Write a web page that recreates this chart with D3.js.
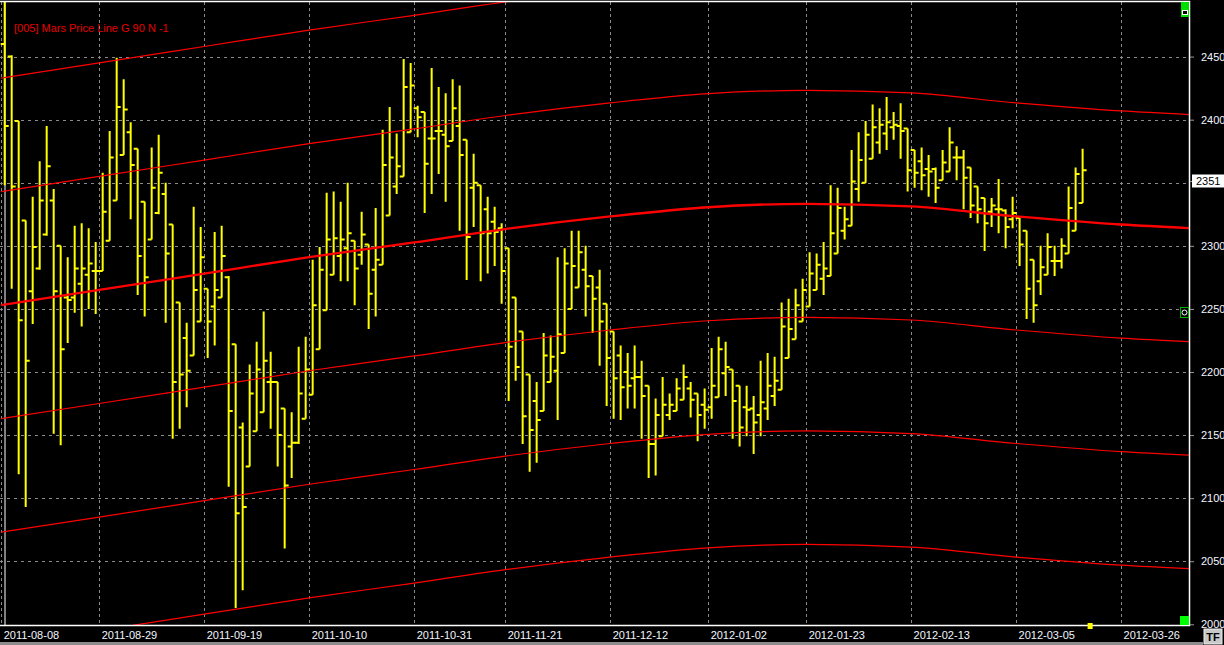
<!DOCTYPE html>
<html>
<head>
<meta charset="utf-8">
<script src="https://cdn.jsdelivr.net/npm/d3@7"></script>
<style>
	body { margin: 0; background: #000; }
	svg { display: block; font-family: "Liberation Sans", Arial, sans-serif; }
</style>
</head>
<body>
<script>
// trading calendar (weekdays minus days with no bar)
const startDate = "2011-08-08";
const endDate = "2012-04-12";
const skippedDays = ["2011-08-19", "2011-11-10", "2011-11-11", "2011-12-26", "2012-01-02"];

// daily bars, one value per trading day from 2011-08-08
const opens = [2460,2450,2399,2320,2264,2282,2309,2336,2300,2259,2259,2270,2277,2280,2280,2304,2336,2372,2390,2377,
	2335,2305,2326,2341,2317,2255,2227,2213,2240,2266,2252,2259,2275,2222,2156,2125,2153,2168,2192,2192,
	2171,2141,2144,2163,2182,2218,2249,2277,2292,2298,2304,2293,2301,2281,2285,2324,2347,2355,2390,2409,
	2406,2385,2391,2388,2383,2395,2384,2346,2348,2329,2319,2314,2298,2259,2232,2198,2177,2169,2192,2201,
	2215,2250,2267,2281,2276,2267,2254,2232,2213,2200,2195,2196,2189,2143,2149,2166,2169,2178,2187,2183,
	2174,2172,2180,2199,2202,2189,2172,2171,2166,2171,2181,2186,2211,2226,2240,2252,2265,2274,2276,2294,
	2312,2316,2345,2350,2369,2382,2389,2394,2395,2393,2376,2367,2361,2361,2352,2359,2370,2370,2362,2347,
	2338,2327,2329,2328,2321,2322,2312,2289,2272,2277,2288,2288,2294,2312,2334];
const highs = [2500,2451,2399,2320,2339,2367,2395,2345,2300,2291,2316,2318,2314,2303,2358,2391,2449,2432,2398,2377,
	2335,2378,2388,2350,2317,2255,2239,2331,2315,2266,2311,2316,2276,2222,2160,2206,2224,2248,2216,2192,
	2171,2168,2220,2228,2289,2299,2342,2343,2335,2350,2304,2327,2301,2330,2392,2410,2389,2448,2445,2411,
	2406,2441,2426,2421,2432,2427,2384,2373,2348,2339,2331,2318,2298,2259,2232,2198,2192,2231,2229,2291,
	2298,2312,2312,2300,2276,2281,2254,2232,2221,2215,2221,2209,2189,2179,2196,2183,2195,2206,2192,2183,
	2187,2219,2228,2224,2202,2189,2189,2181,2209,2215,2212,2255,2258,2266,2274,2295,2294,2303,2348,2346,
	2331,2376,2390,2399,2412,2409,2418,2406,2413,2393,2376,2378,2372,2362,2376,2394,2379,2376,2362,2347,
	2338,2338,2353,2329,2339,2322,2312,2289,2300,2310,2300,2306,2347,2362,2377];
const lows = [2348,2266,2119,2093,2238,2281,2308,2151,2142,2223,2247,2236,2250,2246,2280,2304,2336,2372,2321,2261,
	2244,2305,2325,2239,2147,2155,2172,2213,2240,2211,2221,2259,2109,2013,2027,2125,2153,2168,2155,2125,
	2060,2116,2143,2163,2182,2218,2249,2277,2272,2272,2253,2285,2234,2244,2285,2324,2341,2355,2390,2386,
	2326,2341,2357,2335,2383,2312,2273,2315,2272,2278,2284,2254,2177,2193,2143,2121,2128,2169,2192,2162,
	2215,2250,2267,2244,2231,2205,2173,2163,2162,2171,2171,2147,2116,2118,2149,2162,2169,2178,2164,2145,
	2155,2163,2180,2181,2147,2141,2149,2135,2149,2162,2173,2186,2211,2226,2240,2252,2265,2261,2276,2294,
	2305,2316,2335,2350,2369,2373,2376,2384,2369,2343,2346,2344,2339,2334,2352,2359,2352,2329,2322,2318,
	2296,2315,2310,2298,2314,2284,2242,2239,2261,2277,2276,2282,2294,2312,2334];
const closes = [2395,2347,2241,2209,2299,2336,2363,2264,2218,2257,2282,2282,2286,2280,2327,2370,2410,2408,2364,2292,
	2275,2346,2358,2294,2192,2198,2201,2265,2291,2240,2265,2292,2169,2088,2093,2183,2202,2209,2192,2150,
	2110,2144,2183,2202,2253,2281,2305,2306,2305,2310,2282,2309,2262,2289,2364,2370,2363,2426,2427,2402,
	2365,2385,2391,2379,2409,2372,2307,2350,2310,2310,2311,2280,2220,2204,2165,2154,2162,2213,2212,2230,
	2286,2284,2295,2268,2258,2240,2211,2195,2188,2189,2196,2181,2143,2166,2174,2174,2187,2196,2178,2166,
	2170,2189,2218,2204,2177,2156,2170,2160,2176,2189,2193,2236,2234,2253,2265,2278,2285,2282,2310,2330,
	2321,2351,2368,2388,2394,2396,2398,2396,2391,2360,2358,2356,2359,2346,2366,2382,2370,2354,2332,2329,
	2318,2332,2329,2315,2326,2301,2266,2253,2283,2299,2288,2300,2330,2357,2360];

// x axis labels
const tickDates = ["2011-08-08", "2011-08-29", "2011-09-19", "2011-10-10", "2011-10-31", "2011-11-21",
	"2011-12-12", "2012-01-02", "2012-01-23", "2012-02-13", "2012-03-05", "2012-03-26"];

// Mars price line (centre) read at the tick dates, and the 90 point steps around it
const lineDates = ["2011-08-08", "2011-08-29", "2011-09-19", "2011-10-10", "2011-10-31", "2011-11-21",
	"2011-12-12", "2012-01-02", "2012-01-23", "2012-02-13", "2012-03-05", "2012-03-26", "2012-04-09"];
const centerLine = [2253, 2265, 2278, 2291, 2302.7, 2313.3, 2323.3, 2330.6, 2333.3, 2331.2, 2323.3, 2316.9, 2314];
const lineOffsets = [-270, -180, -90, 0, 90, 180];

const priceTicks = [2000, 2050, 2100, 2150, 2200, 2250, 2300, 2350, 2400, 2450];
const lastPrice = 2351;
const legendText = "[005] Mars Price Line G 90 N -1";

const width = 1224;
const height = 645;
const plot = {left: 0, right: 1189, top: 2, bottom: 625};

const parse = d3.timeParse("%Y-%m-%d");
const fmt = d3.timeFormat("%Y-%m-%d");
const days = d3.timeDay.range(parse(startDate), parse(endDate))
	.filter(d => d.getDay() !== 0 && d.getDay() !== 6 && !skippedDays.includes(fmt(d)));
const dayIndex = s => days.findIndex(d => fmt(d) >= s);

const bars = opens.map((o, i) => ({i: i, open: o, high: highs[i], low: lows[i], close: closes[i]}));

const x = d3.scaleLinear()
	.domain([-0.67, 169.2])
	.range([plot.left, plot.right]);
const y = d3.scaleLinear()
	.domain([2000, 2450])
	.range([624.3, 56.6]);

const svg = d3.select("body").append("svg")
	.attr("width", width)
	.attr("height", height);

svg.append("rect")
	.attr("width", width)
	.attr("height", height)
	.attr("fill", "#000");

svg.append("clipPath")
	.attr("id", "plot-clip")
	.append("rect")
	.attr("x", plot.left)
	.attr("y", plot.top)
	.attr("width", plot.right - plot.left)
	.attr("height", plot.bottom - plot.top);

// grid
const grid = svg.append("g")
	.attr("stroke", "#8a8a8a")
	.attr("stroke-width", 1)
	.attr("shape-rendering", "crispEdges");

grid.selectAll(".hgrid")
	.data(priceTicks.filter(d => d > 2000))
	.enter()
	.append("line")
	.attr("x1", plot.left)
	.attr("x2", plot.right)
	.attr("y1", d => Math.round(y(d)) + 0.5)
	.attr("y2", d => Math.round(y(d)) + 0.5)
	.attr("stroke-dasharray", "3,4");

grid.selectAll(".vgrid")
	.data(tickDates)
	.enter()
	.append("line")
	.attr("x1", d => Math.round(x(dayIndex(d) - 0.5)) + 0.5)
	.attr("x2", d => Math.round(x(dayIndex(d) - 0.5)) + 0.5)
	.attr("y1", plot.top)
	.attr("y2", plot.bottom)
	.attr("stroke-dasharray", "3,3");

// left border, mostly hidden by the first bar
svg.append("line")
	.attr("x1", 5).attr("x2", 5)
	.attr("y1", plot.top).attr("y2", plot.bottom)
	.attr("stroke", "#fff")
	.attr("stroke-width", 1);

// OHLC bars
const barPath = d => {
	const cx = x(d.i);
	return `M${cx},${y(d.high)}V${y(d.low)}` +
		`M${cx - 4},${y(d.open)}H${cx}` +
		`M${cx},${y(d.close)}H${cx + 4}`;
};

svg.append("g")
	.attr("clip-path", "url(#plot-clip)")
	.selectAll(".bar")
	.data(bars)
	.enter()
	.append("path")
	.attr("d", barPath)
	.attr("fill", "none")
	.attr("stroke", "#ffff00")
	.attr("stroke-width", 2);

// price lines
const centre = lineDates.map((d, k) => ({i: dayIndex(d) - 0.5, v: centerLine[k]}));

svg.append("g")
	.attr("clip-path", "url(#plot-clip)")
	.selectAll(".mars")
	.data(lineOffsets)
	.enter()
	.append("path")
	.attr("fill", "none")
	.attr("stroke", "#ff0000")
	.attr("stroke-width", d => d === 0 ? 2.3 : 1.2)
	.attr("d", off => d3.line()
		.x(d => x(d.i))
		.y(d => y(d.v + off))
		.curve(d3.curveMonotoneX)(centre));

// frame
svg.append("path")
	.attr("d", `M0,1.5H${plot.right + 0.5}V${plot.bottom + 0.5}H0`)
	.attr("fill", "none")
	.attr("stroke", "#fff")
	.attr("stroke-width", 1.5);

// right price axis (the label hidden under the last price tag is left out)
const yAxis = g => g
	.attr("transform", `translate(${plot.right + 1},0)`)
	.call(d3.axisRight(y)
		.tickValues(priceTicks.filter(d => Math.abs(d - lastPrice) > 10))
		.tickSize(4)
		.tickPadding(7)
		.tickFormat(d3.format("d")))
	.call(g => g.select(".domain").remove())
	.call(g => g.selectAll(".tick line").attr("stroke", "#9a9a9a"))
	.call(g => g.selectAll(".tick text")
		.attr("fill", "#f2f6ff")
		.attr("font-size", 11)
		.attr("font-family", "'Liberation Sans', Arial, sans-serif"));

svg.append("g").call(yAxis);

// bottom date axis
const xAxis = g => g
	.attr("transform", `translate(0,${plot.bottom})`)
	.call(d3.axisBottom(x)
		.tickValues(tickDates.map(d => dayIndex(d) - 0.5))
		.tickSize(0)
		.tickPadding(6)
		.tickFormat((d, k) => tickDates[k]))
	.call(g => g.select(".domain").remove())
	.call(g => g.selectAll(".tick text")
		.attr("text-anchor", "start")
		.attr("dx", 2)
		.attr("fill", "#f2f6ff")
		.attr("font-size", 11)
		.attr("font-family", "'Liberation Sans', Arial, sans-serif"));

svg.append("g").call(xAxis);

svg.append("rect")
	.attr("x", 0).attr("y", 642)
	.attr("width", 1203).attr("height", 3)
	.attr("fill", "#8c8c8c");

// last price tag
const tag = svg.append("g")
	.attr("transform", `translate(1191,${y(lastPrice)})`);
tag.append("line")
	.attr("x1", -1).attr("x2", 3)
	.attr("stroke", "#9a9a9a");
tag.append("rect")
	.attr("x", 1).attr("y", -7)
	.attr("width", 32).attr("height", 13)
	.attr("fill", "#fff");
tag.append("text")
	.attr("x", 5).attr("y", 4)
	.attr("font-size", 11)
	.attr("fill", "#000")
	.text(lastPrice);

// legend
svg.append("text")
	.attr("x", 14).attr("y", 32)
	.attr("font-size", 11)
	.attr("fill", "#e80000")
	.text(legendText);

// chart widgets
svg.append("rect").attr("x", 1181).attr("y", 2).attr("width", 8).attr("height", 15).attr("fill", "#00e000");
svg.append("rect").attr("x", 1182.5).attr("y", 10.5).attr("width", 5).attr("height", 4)
	.attr("fill", "#000").attr("stroke", "#fff").attr("stroke-width", 1);
svg.append("rect").attr("x", 1180.5).attr("y", 307.5).attr("width", 8).attr("height", 10)
	.attr("fill", "#000").attr("stroke", "#00b000").attr("stroke-width", 1);
svg.append("circle").attr("cx", 1184.5).attr("cy", 312.5).attr("r", 2.5)
	.attr("fill", "none").attr("stroke", "#fff").attr("stroke-width", 1);
svg.append("rect").attr("x", 1180).attr("y", 616).attr("width", 9).attr("height", 9).attr("fill", "#00ff00");
svg.append("rect").attr("x", x(bars.length) - 2).attr("y", 623).attr("width", 5).attr("height", 6).attr("fill", "#ffff00");

const tf = svg.append("g").attr("transform", "translate(1204,629)");
tf.append("rect").attr("width", 18).attr("height", 15).attr("fill", "#c8c8c8").attr("stroke", "#eee");
tf.append("text").attr("x", 9).attr("y", 12).attr("text-anchor", "middle")
	.attr("font-size", 11).attr("font-weight", "bold").attr("fill", "#000").text("TF");
</script>
</body>
</html>
